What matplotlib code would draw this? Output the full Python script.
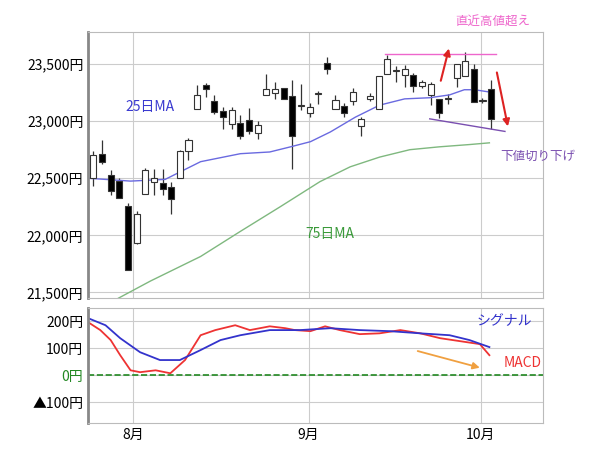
import matplotlib.pyplot as plt
import matplotlib.ticker as mticker

plt.rcParams['font.family'] = ['Noto Sans CJK JP', 'DejaVu Sans']

# daily candles (open, high, low, close), Jul end .. Oct start
opens = [22500, 22715, 22530, 22480, 22260, 21930, 22365, 22470, 22455, 22420, 22500, 22740,
         23107, 23317, 23177, 23090, 22976, 22985, 23010, 22898,
         23230, 23247, 23290, 23220, 23133, 23075, 23238, 23510, 23107,
         23133, 23177, 22960, 23195, 23107, 23413, 23440, 23405, 23405, 23310, 23230, 23195,
         23195, 23378, 23395, 23456, 23177, 23282]
closes = [22705, 22645, 22390, 22330, 21700, 22190, 22575, 22500, 22410, 22320, 22740, 22837,
          23230, 23282, 23080, 23037, 23098, 22872, 22915, 22967,
          23282, 23282, 23195, 22872, 23138, 23125, 23243, 23456, 23186,
          23072, 23255, 23020, 23220, 23395, 23545, 23445, 23455, 23310, 23343, 23325, 23072,
          23200, 23500, 23525, 23168, 23182, 23020]
highs = [22740, 22837, 22575, 22500, 22287, 22210, 22590, 22583, 22583, 22470, 22750, 22855,
         23317, 23330, 23230, 23125, 23125, 23055, 23116, 23000,
         23413, 23343, 23290, 23360, 23325, 23160, 23265, 23560, 23230,
         23160, 23290, 23040, 23250, 23395, 23580, 23480, 23490, 23420, 23360, 23340, 23195,
         23240, 23500, 23605, 23500, 23200, 23360]
lows = [22430, 22627, 22355, 22330, 21700, 21920, 22365, 22357, 22357, 22190, 22500, 22660,
        23107, 23212, 23063, 22933, 22933, 22845, 22890, 22845,
        23230, 23195, 23195, 22583, 23100, 23040, 23150, 23413, 23107,
        23040, 23140, 22870, 23180, 23107, 23413, 23343, 23300, 23255, 23290, 23142, 23030,
        23150, 23300, 23395, 23168, 23160, 22933]

ma25_x = [-0.6, 4.3, 8.3, 12.4, 17, 20.4, 22.8, 25.1, 27.4, 30.3, 33.1, 36, 38.9, 41.2, 42.9, 44.1, 45.8]
ma25_y = [22500, 22475, 22490, 22645, 22715, 22730, 22775, 22820, 22905, 23035, 23140, 23195,
          23205, 23230, 23275, 23275, 23255]
ma75_x = [2.9, 6.6, 12.4, 16.9, 21.6, 26.2, 29.7, 33.1, 36.6, 40, 43.5, 45.8]
ma75_y = [21450, 21600, 21815, 22030, 22250, 22470, 22600, 22685, 22750, 22775, 22795, 22810]

macd_x = [-0.6, 0.8, 2, 3.1, 4.3, 5.4, 7.2, 8.9, 10.6, 12.4, 14.1, 16.4, 18.1, 20.4, 22.2, 23.3,
          25.1, 26.8, 28.5, 30.8, 33.1, 35.5, 37.8, 40.1, 42.4, 44.7, 45.8]
macd_y = [196, 167, 130, 74, 18, 11, 18, 7, 56, 148, 167, 185, 167, 181, 174, 167,
          163, 181, 167, 152, 155, 167, 155, 137, 126, 115, 74]
sig_x = [-0.6, 1.4, 3.1, 5.4, 7.7, 10, 12.4, 14.7, 17, 20.4, 23.9, 27.4, 30.8, 34.3, 37.8, 41.2, 43.5, 45.8]
sig_y = [211, 185, 137, 85, 56, 56, 93, 130, 148, 167, 167, 174, 167, 163, 155, 148, 130, 104]

month_pos = [4.6, 24.9, 44.8]
month_labels = ['8月', '9月', '10月']

fig = plt.figure(figsize=(6, 4.58), dpi=100)
ax = fig.add_axes([0.147, 0.349, 0.758, 0.581])
ax2 = fig.add_axes([0.147, 0.076, 0.758, 0.251])

for a in (ax, ax2):
    a.set_xlim(-0.6, 52)
    a.set_xticks(month_pos)
    a.grid(color='#cccccc', lw=0.8)
    a.set_axisbelow(True)
    for s in a.spines.values():
        s.set_color('#bbbbbb')
    a.spines['left'].set_color('#888888')
    a.spines['left'].set_linewidth(2)
    a.tick_params(length=0, labelsize=10)

ax.set_xticklabels([])
ax2.set_xticklabels(month_labels)

for i in range(len(opens)):
    o, c, h, l = opens[i], closes[i], highs[i], lows[i]
    ax.vlines(i, l, h, color='#333333', lw=0.9, zorder=2)
    bottom = min(o, c)
    height = max(abs(c - o), 8)
    fc = 'white' if c >= o else 'black'
    ax.bar(i, height, 0.7, bottom=bottom, color=fc, edgecolor='#333333', lw=0.8, zorder=3)

ax.plot(ma25_x, ma25_y, color='#6a6ae0', lw=1)
ax.plot(ma75_x, ma75_y, color='#7fb87f', lw=1)
ax.set_ylim(21450, 23780)
ax.set_yticks([21500, 22000, 22500, 23000, 23500])
ax.yaxis.set_major_formatter(mticker.FuncFormatter(lambda v, p: f'{v:,.0f}円'))

ax.text(3.7, 23125, '25日MA', color='#3a3ad0', fontsize=10, va='center')
ax.text(24.5, 21980, '75日MA', color='#3a9a3a', fontsize=10)
ax.plot([33.7, 46.6], [23590, 23590], color='#ee66cc', lw=1)
ax.text(41.8, 23867, '直近高値超え', color='#ee66cc', fontsize=9, va='center', clip_on=False)
ax.annotate('', xy=(41.2, 23660), xytext=(40.1, 23330),
            arrowprops=dict(arrowstyle='-|>', color='#dd2222', lw=1.5))
ax.annotate('', xy=(48, 22930), xytext=(46.6, 23450),
            arrowprops=dict(arrowstyle='-|>', color='#dd2222', lw=1.5))
ax.plot([38.9, 47.6], [23020, 22910], color='#7a4fb0', lw=1)
ax.text(47.1, 22690, '下値切り下げ', color='#7a4fb0', fontsize=9, va='center', clip_on=False)

ax2.plot(macd_x, macd_y, color='#ee3333', lw=1.3)
ax2.plot(sig_x, sig_y, color='#3333cc', lw=1.3)
ax2.axhline(0, color='#228822', ls='--', lw=1.2)
ax2.set_ylim(-178, 248)
ax2.set_yticks([-100, 0, 100, 200])
ax2.set_yticklabels(['▲100円', '0円', '100円', '200円'])
ax2.get_yticklabels()[1].set_color('#228822')
ax2.text(44.3, 185, 'シグナル', color='#3333cc', fontsize=10)
ax2.text(47.4, 30, 'MACD', color='#ee3333', fontsize=10)
ax2.annotate('', xy=(45, 25), xytext=(37.2, 92),
             arrowprops=dict(arrowstyle='-|>', color='#f0a040', lw=1.3))

fig.savefig('out.png')
